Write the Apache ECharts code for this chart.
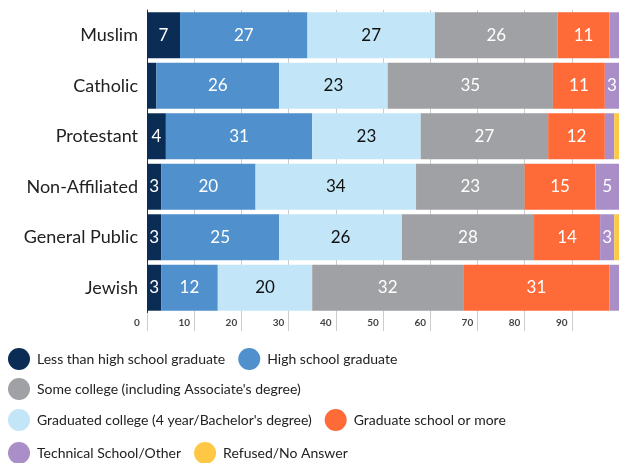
<!DOCTYPE html>
<html>
<head>
<meta charset="utf-8">
<script src="https://cdn.jsdelivr.net/npm/echarts@6/dist/echarts.min.js"></script>
<style>
  html, body { margin: 0; padding: 0; background: #fff; }
  #chart { width: 619px; height: 463px; }
</style>
</head>
<body>
<div id="chart"></div>
<script>
const groups = ['Muslim', 'Catholic', 'Protestant', 'Non-Affiliated', 'General Public', 'Jewish']
const lessThanHS = [7, 2, 4, 3, 3, 3]
const hsGrad = [27, 26, 31, 20, 25, 12]
const collegeGrad = [27, 23, 23, 34, 26, 20]
const someCollege = [26, 35, 27, 23, 28, 32]
const gradSchool = [11, 11, 12, 15, 14, 31]
const technical = [2, 3, 2, 5, 3, 2]
const refused = [0, 0, 1, 0, 1, 0]
const xTicks = ['0', '10', '20', '30', '40', '50', '60', '70', '80', '90']

const font = 'Lato, "Noto Sans", sans-serif'

const seriesDefs = [
  { name: 'Less than high school graduate', data: lessThanHS, color: '#0b2d55', text: '#fff' },
  { name: 'High school graduate', data: hsGrad, color: '#4f90cd', text: '#fff' },
  { name: "Graduated college (4 year/Bachelor's degree)", data: collegeGrad, color: '#c2e6f8', text: '#111' },
  { name: "Some college (including Associate's degree)", data: someCollege, color: '#a0a1a4', text: '#fff' },
  { name: 'Graduate school or more', data: gradSchool, color: '#ff6a39', text: '#fff' },
  { name: 'Technical School/Other', data: technical, color: '#a98ec8', text: '#fff' },
  { name: 'Refused/No Answer', data: refused, color: '#ffc844', text: '#fff' }
]

const series = seriesDefs.map(s => ({
  name: s.name,
  type: 'bar',
  stack: 'total',
  data: s.data,
  barCategoryGap: '9%',
  itemStyle: { color: s.color },
  label: {
    show: true,
    color: s.text,
    fontFamily: font,
    fontSize: 17,
    formatter: p => (p.value >= 3 ? p.value : '')
  }
}))

function legendRow(names, top) {
  return {
    data: names,
    top: top,
    left: 3,
    icon: 'circle',
    itemWidth: 22,
    itemHeight: 24,
    itemGap: 13,
    selectedMode: false,
    textStyle: { fontFamily: font, fontSize: 14, color: '#222', padding: [0, 0, 0, 2] }
  }
}

const chart = echarts.init(document.getElementById('chart'))
chart.setOption({
  animation: false,
  grid: { left: 147, right: 0, top: 10, bottom: 150 },
  legend: [
    legendRow(['Less than high school graduate', 'High school graduate'], 343),
    legendRow(["Some college (including Associate's degree)"], 373),
    legendRow(["Graduated college (4 year/Bachelor's degree)", 'Graduate school or more'], 404),
    legendRow(['Technical School/Other', 'Refused/No Answer'], 437)
  ],
  xAxis: {
    type: 'value',
    min: 0,
    max: 100,
    interval: 10,
    axisLine: { show: false },
    axisTick: { show: true, length: 18, lineStyle: { color: '#ccc' } },
    splitLine: { show: true, lineStyle: { color: '#ccc' } },
    axisLabel: {
      showMaxLabel: false,
      margin: 5,
      fontFamily: font,
      fontSize: 10,
      fontWeight: 'bold',
      color: '#444',
      padding: [0, 20, 0, 0],
      formatter: v => xTicks[v / 10] || ''
    }
  },
  yAxis: {
    type: 'category',
    data: groups,
    inverse: true,
    axisLine: { show: true, lineStyle: { color: '#333' } },
    axisTick: { show: false },
    axisLabel: { fontFamily: font, fontSize: 18, color: '#222', margin: 9 }
  },
  series: series
})
</script>
</body>
</html>
